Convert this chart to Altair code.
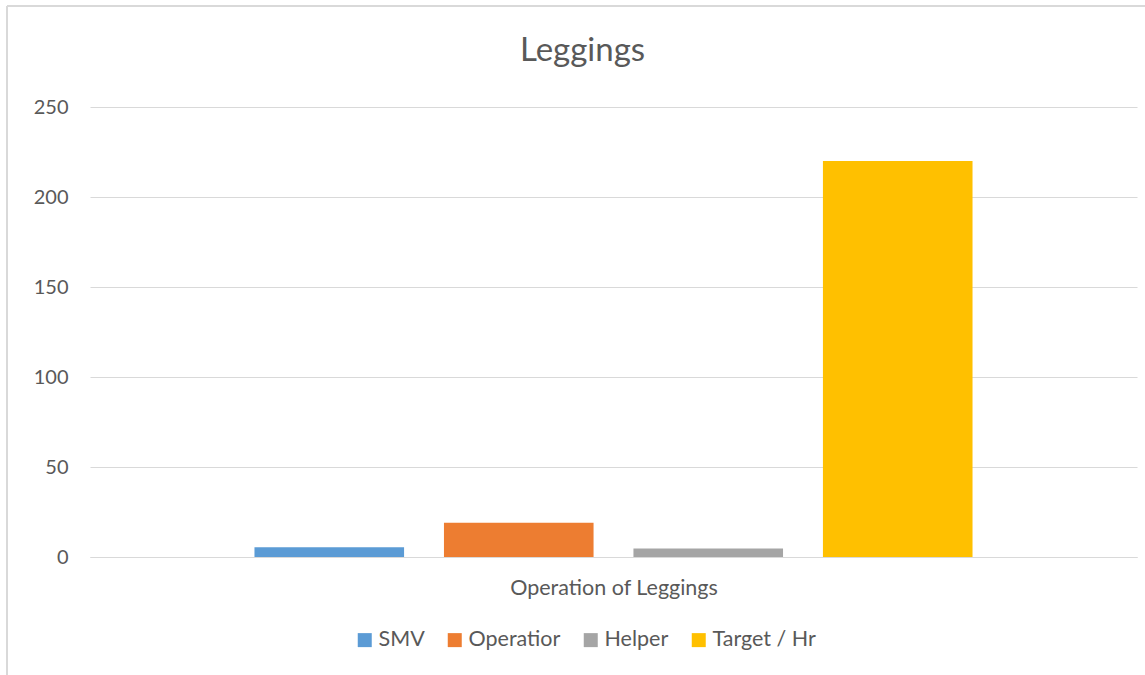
import altair as alt
import pandas as pd

# Series shown for the single "Operation of Leggings" category
series = ["SMV", "Operatior", "Helper", "Target / Hr"]
values = [5.4, 19, 4.7, 220]
colors = ["#5B9BD5", "#ED7D31", "#A5A5A5", "#FFC000"]
y_ticks = [0, 50, 100, 150, 200, 250]

df = pd.DataFrame({"series": series, "value": values})

FONT = "Lato"
TEXT = "#595959"
GRID = "#D9D9D9"

bars = alt.Chart(df).mark_bar().encode(
    x=alt.X(
        "series:N",
        sort=series,
        scale=alt.Scale(paddingInner=0.2105, paddingOuter=0.868),
        axis=alt.Axis(
            labels=False, ticks=False, domain=True, domainColor=GRID,
            title="Operation of Leggings", titleFontSize=21.5,
            titleFontWeight="normal", titleColor=TEXT, titleFont=FONT,
            titlePadding=20,
        ),
    ),
    y=alt.Y(
        "value:Q",
        scale=alt.Scale(domain=[0, 250], nice=False),
        axis=alt.Axis(
            values=y_ticks, title=None, ticks=False, domain=False,
            gridColor=GRID, labelFontSize=20, labelColor=TEXT,
            labelFont=FONT, labelPadding=22,
        ),
    ),
    color=alt.Color(
        "series:N",
        sort=series,
        scale=alt.Scale(domain=series, range=colors),
        legend=alt.Legend(
            title=None, orient="none", direction="horizontal",
            legendX=264, legendY=522, symbolType="square",
            symbolSize=196, symbolStrokeWidth=0, labelFontSize=21.5,
            labelColor=TEXT, labelFont=FONT, columnPadding=19,
            labelOffset=3,
        ),
    ),
)

# Chart-area outline: top and left edges
top_edge = alt.Chart(df).mark_rule(
    stroke=GRID, strokeWidth=2, clip=False
).encode(x=alt.value(-83), x2=alt.value(1058), y=alt.value(-101))

left_edge = alt.Chart(df).mark_rule(
    stroke=GRID, strokeWidth=2, clip=False
).encode(x=alt.value(-83), y=alt.value(-101), y2=alt.value(570))

chart = alt.layer(bars, top_edge, left_edge).properties(
    width=1047,
    height=450,
    title=alt.TitleParams(
        "Leggings", fontSize=33, fontWeight="normal", color=TEXT,
        font=FONT, anchor="middle", frame="group", offset=0, dy=63, dx=-31,
    ),
    autosize=alt.AutoSizeParams(type="none"),
    padding={"left": 90, "top": 107, "right": 8, "bottom": 118},
).configure(background="white").configure_view(stroke=None, strokeWidth=0)

chart.save("out.html", embed_options={"renderer": "svg", "actions": False})
